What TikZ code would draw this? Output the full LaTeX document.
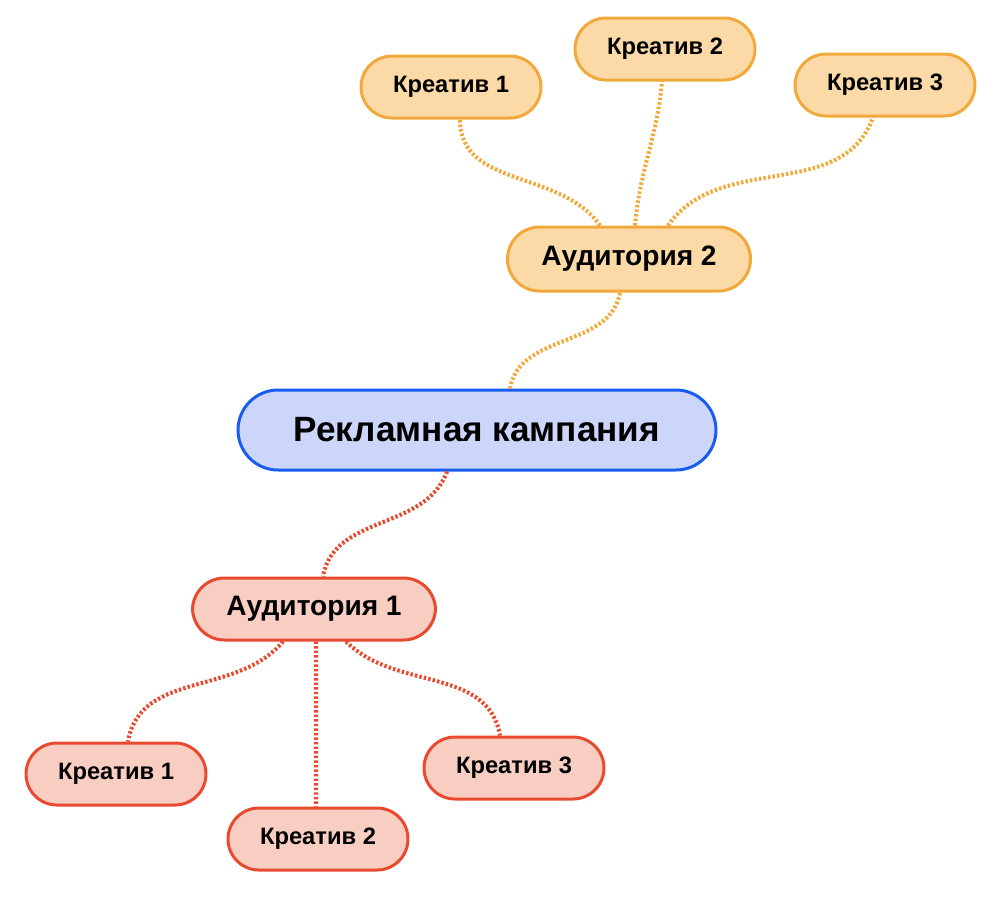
\documentclass[tikz,border=0pt]{standalone}
\usepackage{fontspec}
\setmainfont{Liberation Sans}
\definecolor{campfill}{HTML}{CCD6FB}
\definecolor{campline}{HTML}{1A5CF0}
\definecolor{ortfill}{HTML}{FBDAA8}
\definecolor{ortline}{HTML}{F0A93A}
\definecolor{redfill}{HTML}{F8CEC2}
\definecolor{redline}{HTML}{E84A30}
\begin{document}
\begin{tikzpicture}[thick,
    box/.style={draw,rounded corners=0.6cm,line width=1.7pt,font=\bfseries,inner sep=0pt},
    camp node/.style={box,draw=campline,fill=campfill,minimum width=9.56cm,minimum height=1.6cm,rounded corners=0.8cm,font=\bfseries\fontsize{20}{24}\selectfont},
    aud node/.style={box,minimum width=4.86cm,minimum height=1.28cm,rounded corners=0.64cm,font=\bfseries\fontsize{16}{19}\selectfont},
    kr node/.style={box,minimum width=3.6cm,minimum height=1.24cm,rounded corners=0.62cm,font=\bfseries\fontsize{13.5}{16}\selectfont},
    link/.style={line width=2.3pt,dash pattern=on 1.4pt off 1.2pt}]
 \useasboundingbox (0,0) rectangle (20,-17.94);

%Central node
 \node[camp node] (Camp) at (9.54,-8.6) {Рекламная кампания};

%Upper branch
 \node[aud node,draw=ortline,fill=ortfill] (Aud2) at (12.58,-5.18) {Аудитория 2};
 \node[kr node,draw=ortline,fill=ortfill] (KrA1) at (9.02,-1.74) {Креатив 1};
 \node[kr node,draw=ortline,fill=ortfill] (KrA2) at (13.3,-0.98) {Креатив 2};
 \node[kr node,draw=ortline,fill=ortfill] (KrA3) at (17.7,-1.7) {Креатив 3};

%Lower branch
 \node[aud node,draw=redline,fill=redfill,minimum height=1.24cm] (Aud1) at (6.28,-12.18) {Аудитория 1};
 \node[kr node,draw=redline,fill=redfill] (KrB1) at (2.32,-15.48) {Креатив 1};
 \node[kr node,draw=redline,fill=redfill] (KrB2) at (6.36,-16.78) {Креатив 2};
 \node[kr node,draw=redline,fill=redfill] (KrB3) at (10.28,-15.36) {Креатив 3};

%Links
 \begin{scope}[link,ortline]
  \draw ([xshift=0.66cm]Camp.north) to[out=80,in=-100] ([xshift=-0.18cm]Aud2.south);
  \draw ([xshift=-0.58cm]Aud2.north) to[out=125,in=-90] ([xshift=0.18cm]KrA1.south);
  \draw ([xshift=0.12cm]Aud2.north) to[out=85,in=-95] ([xshift=-0.06cm]KrA2.south);
  \draw ([xshift=0.78cm]Aud2.north) to[out=55,in=-110] ([xshift=-0.24cm]KrA3.south);
 \end{scope}
 \begin{scope}[link,redline]
  \draw ([xshift=-0.6cm]Camp.south) to[out=-110,in=80] ([xshift=0.18cm]Aud1.north);
  \draw ([xshift=-0.62cm]Aud1.south) to[out=-130,in=80] ([xshift=0.24cm]KrB1.north);
  \draw ([xshift=0.04cm]Aud1.south) -- ([xshift=-0.04cm]KrB2.north);
  \draw ([xshift=0.64cm]Aud1.south) to[out=-45,in=100] ([xshift=-0.28cm]KrB3.north);
 \end{scope}
\end{tikzpicture}
\end{document}
